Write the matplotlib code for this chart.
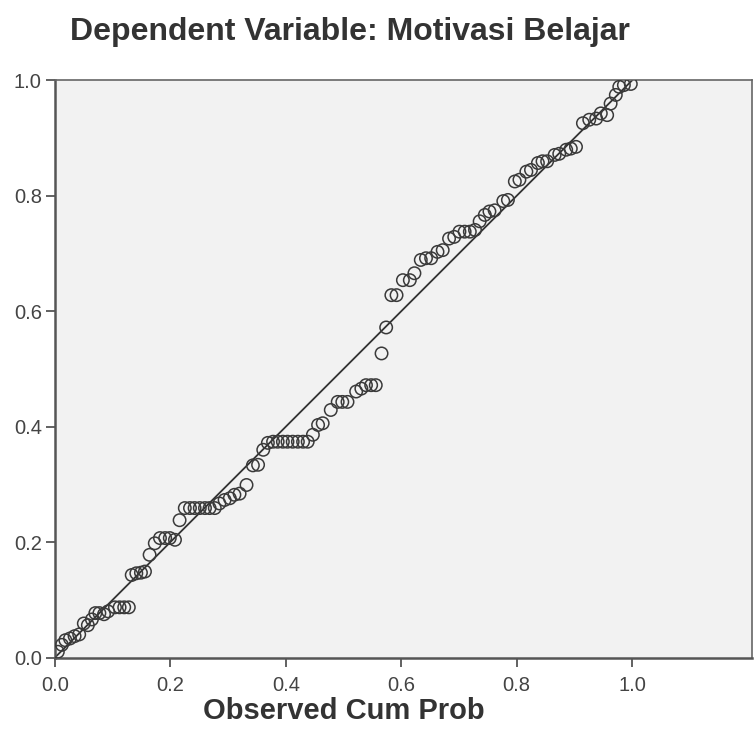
import matplotlib

matplotlib.use("Agg")

import matplotlib.pyplot as plt

# Normal P-P plot of regression standardized residual
observed_cum_prob = [
    0.005, 0.012, 0.018, 0.026, 0.034, 0.042, 0.050, 0.057, 0.064, 0.070,
    0.077, 0.085, 0.092, 0.104, 0.112, 0.120, 0.128, 0.133, 0.141, 0.149,
    0.156, 0.164, 0.173, 0.182, 0.191, 0.199, 0.208, 0.216, 0.225, 0.234,
    0.242, 0.251, 0.260, 0.268, 0.277, 0.285, 0.294, 0.303, 0.311, 0.320,
    0.332, 0.343, 0.352, 0.361, 0.369, 0.378, 0.386, 0.395, 0.403, 0.412,
    0.421, 0.430, 0.438, 0.447, 0.456, 0.464, 0.478, 0.490, 0.498, 0.507,
    0.522, 0.531, 0.539, 0.548, 0.556, 0.566, 0.574, 0.583, 0.592, 0.603,
    0.615, 0.623, 0.634, 0.643, 0.652, 0.663, 0.672, 0.683, 0.692, 0.701,
    0.710, 0.719, 0.728, 0.736, 0.745, 0.753, 0.762, 0.777, 0.785, 0.797,
    0.805, 0.817, 0.825, 0.837, 0.845, 0.853, 0.866, 0.874, 0.886, 0.894,
    0.903, 0.915, 0.926, 0.938, 0.946, 0.957, 0.963, 0.972, 0.978, 0.986,
    0.998,
]
expected_cum_prob = [
    0.010, 0.022, 0.030, 0.033, 0.037, 0.040, 0.059, 0.056, 0.066, 0.077,
    0.077, 0.075, 0.080, 0.087, 0.087, 0.087, 0.087, 0.143, 0.146, 0.147,
    0.149, 0.178, 0.198, 0.207, 0.207, 0.207, 0.204, 0.238, 0.259, 0.259,
    0.259, 0.259, 0.259, 0.259, 0.259, 0.267, 0.273, 0.276, 0.282, 0.284,
    0.299, 0.333, 0.334, 0.360, 0.372, 0.374, 0.374, 0.374, 0.374, 0.374,
    0.374, 0.374, 0.374, 0.386, 0.403, 0.406, 0.429, 0.443, 0.443, 0.443,
    0.461, 0.466, 0.472, 0.472, 0.472, 0.527, 0.572, 0.628, 0.628, 0.654,
    0.654, 0.666, 0.689, 0.692, 0.692, 0.703, 0.706, 0.726, 0.729, 0.738,
    0.738, 0.738, 0.741, 0.756, 0.767, 0.773, 0.775, 0.791, 0.793, 0.825,
    0.828, 0.842, 0.845, 0.857, 0.860, 0.860, 0.871, 0.873, 0.880, 0.882,
    0.885, 0.926, 0.932, 0.934, 0.943, 0.940, 0.960, 0.975, 0.989, 0.992,
    0.994,
]
ticks = [0.0, 0.2, 0.4, 0.6, 0.8, 1.0]
tick_labels = ["0.0", "0.2", "0.4", "0.6", "0.8", "1.0"]
title = "Dependent Variable: Motivasi Belajar"
x_label = "Observed Cum Prob"

plt.rcParams["font.family"] = ["Liberation Sans", "DejaVu Sans"]

fig = plt.figure(figsize=(7.55, 7.53), dpi=100)
ax = fig.add_axes([0.0728, 0.1268, 0.9232, 0.7663])
ax.set_facecolor("#f2f2f2")

ax.plot([0, 1], [0, 1], color="#333333", linewidth=1.3, zorder=2)
ax.scatter(observed_cum_prob, expected_cum_prob, s=80, facecolors="none",
           edgecolors="#3a3a3a", linewidths=1.1, zorder=3)

ax.set_xlim(0, 1.208)
ax.set_ylim(0, 1.0)
ax.set_xticks(ticks)
ax.set_xticklabels(tick_labels)
ax.set_yticks(ticks)
ax.set_yticklabels(tick_labels)
ax.tick_params(direction="out", length=6.5, width=1.3, colors="#555555",
               labelcolor="#444444", labelsize=14.5)
ax.tick_params(axis="x", pad=7)
ax.tick_params(axis="y", pad=3)

for side in ("left", "bottom"):
    ax.spines[side].set_color("#555555")
    ax.spines[side].set_linewidth(1.8)
for side in ("top", "right"):
    ax.spines[side].set_color("#666666")
    ax.spines[side].set_linewidth(1.2)

fig.text(0.463, 0.957, title, ha="center", va="center", fontsize=23,
         fontweight="bold", color="#333333")
fig.text(0.455, 0.045, x_label, ha="center", va="baseline", fontsize=21,
         fontweight="bold", color="#333333")

fig.savefig("out.png", facecolor="white")
